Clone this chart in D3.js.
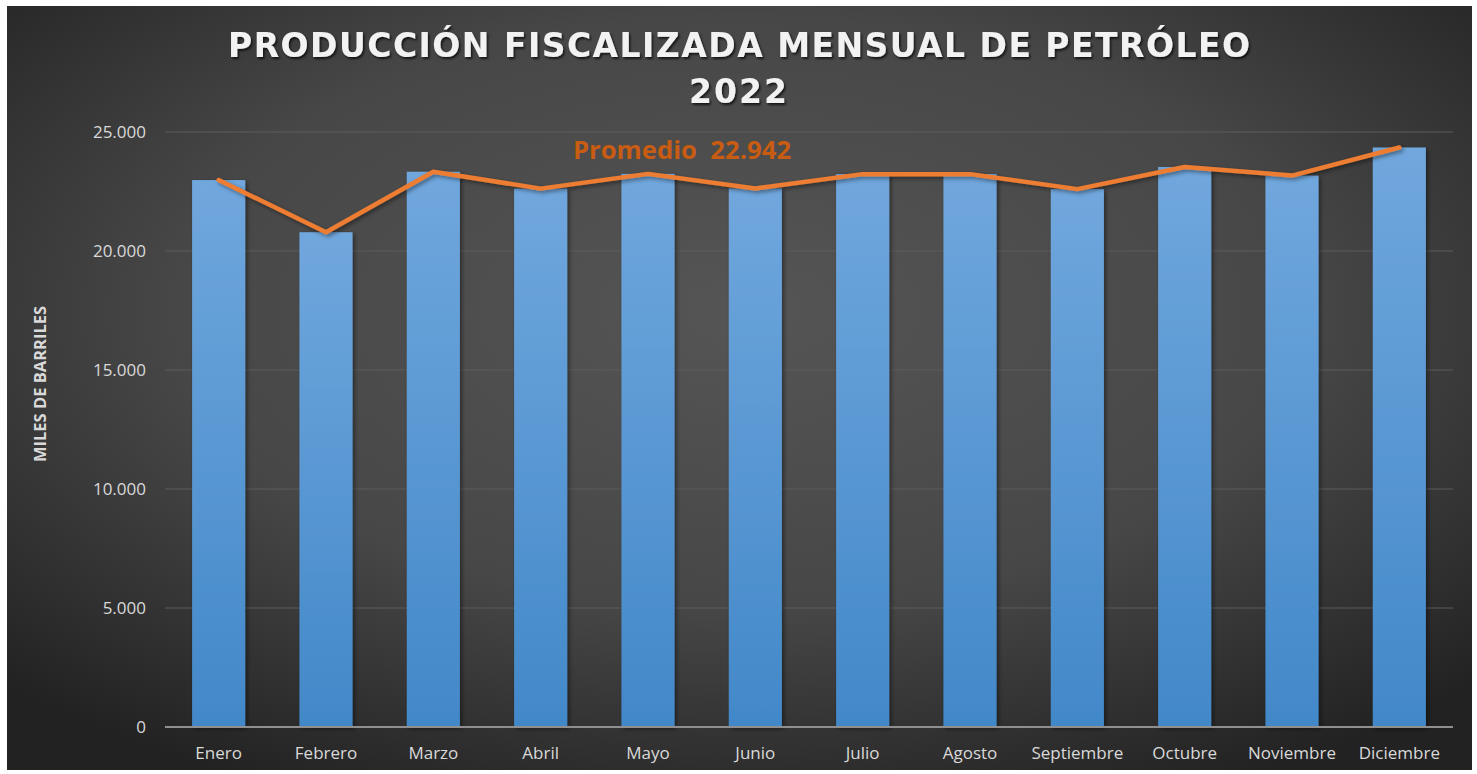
<!DOCTYPE html>
<html><head><meta charset="utf-8">
<script src="https://cdn.jsdelivr.net/npm/d3@7/dist/d3.min.js"></script>
<style>html,body{margin:0;padding:0;background:#fff;}svg{display:block;}</style>
</head><body>
<svg id="c" width="1477" height="774"></svg>
<script>
const months = ["Enero","Febrero","Marzo","Abril","Mayo","Junio","Julio","Agosto","Septiembre","Octubre","Noviembre","Diciembre"];
const production = [22980, 20790, 23330, 22620, 23240, 22630, 23230, 23230, 22600, 23530, 23170, 24350];
const yTicks = [0, 5000, 10000, 15000, 20000, 25000];
const titleLines = ["PRODUCCIÓN FISCALIZADA MENSUAL DE PETRÓLEO", "2022"];
const averageLabel = "Promedio  22.942";
const yAxisTitle = "MILES DE BARRILES";

const svg = d3.select("#c");
const defs = svg.append("defs");
const bg = defs.append("radialGradient").attr("id","bg").attr("cx","50%").attr("cy","40%").attr("r","70%");
bg.append("stop").attr("offset","0%").attr("stop-color","#555555");
bg.append("stop").attr("offset","55%").attr("stop-color","#474747");
bg.append("stop").attr("offset","100%").attr("stop-color","#222222");
const bar = defs.append("linearGradient").attr("id","bar").attr("x1",0).attr("y1",0).attr("x2",0).attr("y2",1);
bar.append("stop").attr("offset","0%").attr("stop-color","#70a7dd");
bar.append("stop").attr("offset","100%").attr("stop-color","#4288c9");
const sh = defs.append("filter").attr("id","sh").attr("x","-20%").attr("y","-20%").attr("width","150%").attr("height","150%");
sh.append("feDropShadow").attr("dx",2).attr("dy",2).attr("stdDeviation",2).attr("flood-color","#000").attr("flood-opacity",0.45);
const tsh = defs.append("filter").attr("id","tsh").attr("x","-5%").attr("y","-20%").attr("width","110%").attr("height","150%");
tsh.append("feDropShadow").attr("dx",1.5).attr("dy",2).attr("stdDeviation",1.2).attr("flood-color","#000").attr("flood-opacity",0.7);

svg.append("rect").attr("x",7).attr("y",6).attr("width",1465).attr("height",764).attr("fill","url(#bg)");

const m = {left:165, right:1453, top:132, bottom:727};
const x = d3.scaleBand().domain(months).range([m.left, m.right]).paddingInner(0.505).paddingOuter(0.2525);
const y = d3.scaleLinear().domain([0, 25000]).range([m.bottom, m.top]);
const fmt = d => d === 0 ? "0" : d3.format(",")(d).replace(/,/g, ".");

// gridlines
svg.append("g").selectAll("line").data(yTicks.filter(d=>d>0)).join("line")
  .attr("x1", m.left).attr("x2", m.right).attr("y1", d=>y(d)).attr("y2", d=>y(d))
  .attr("stroke","#5c5c5c").attr("stroke-width",1);

// y tick labels
const yAxis = d3.axisLeft(y).tickValues(yTicks).tickFormat(fmt).tickSize(0).tickPadding(0);
const ya = svg.append("g").attr("transform",`translate(${m.left-19},0)`).call(yAxis);
ya.select(".domain").remove();
ya.selectAll("text").attr("fill","#d9d9d9").style("font-family","'Open Sans', sans-serif").style("font-size","17px").attr("dy","0.35em");

// bars
svg.append("g").attr("filter","url(#sh)").selectAll("rect").data(production).join("rect")
  .attr("x",(d,i)=>x(months[i])).attr("width",x.bandwidth())
  .attr("y",d=>y(d)).attr("height",d=>y(0)-y(d)).attr("fill","url(#bar)");

// x axis
const xAxis = d3.axisBottom(x).tickSize(0).tickPadding(0);
const xa = svg.append("g").attr("transform",`translate(0,${m.bottom})`).call(xAxis);
xa.select(".domain").attr("stroke","#8f8f8f").attr("stroke-width",2).attr("d",`M${m.left},0H${m.right}`);
xa.selectAll("text").attr("fill","#d9d9d9").attr("y",32).attr("dy","0")
  .style("font-family","'Open Sans', sans-serif").style("font-size","17px");

// line
const line = d3.line().x((d,i)=>x(months[i])+x.bandwidth()/2).y(d=>y(d));
svg.append("path").datum(production).attr("d",line).attr("fill","none")
  .attr("stroke","#ed7d31").attr("stroke-width",4.5).attr("stroke-linecap","round").attr("stroke-linejoin","round")
  .attr("filter","url(#sh)");

// average label
svg.append("text").attr("x",682).attr("y",159).attr("text-anchor","middle")
  .attr("fill","#c85c12").style("font-family","'Open Sans', sans-serif").style("font-weight","700").style("font-size","25.7px")
  .style("white-space","pre").text(averageLabel);

// title
svg.append("text").attr("x",739).attr("y",57).attr("text-anchor","middle").attr("filter","url(#tsh)")
  .attr("fill","#f2f2f2").style("font-family","'DejaVu Sans', sans-serif").style("font-weight","700").style("font-size","33px")
  .attr("textLength",1022).attr("lengthAdjust","spacing").text(titleLines[0]);
svg.append("text").attr("x",739).attr("y",103).attr("text-anchor","middle").attr("filter","url(#tsh)")
  .attr("fill","#f2f2f2").style("font-family","'DejaVu Sans', sans-serif").style("font-weight","700").style("font-size","33px")
  .style("letter-spacing","2px").text(titleLines[1]);

// y axis title
svg.append("text").attr("transform","translate(46,384) rotate(-90)").attr("text-anchor","middle")
  .attr("fill","#d9d9d9").style("font-family","'Open Sans', sans-serif").style("font-weight","700").style("font-size","16.5px")
  .text(yAxisTitle);
</script>
</body></html>
